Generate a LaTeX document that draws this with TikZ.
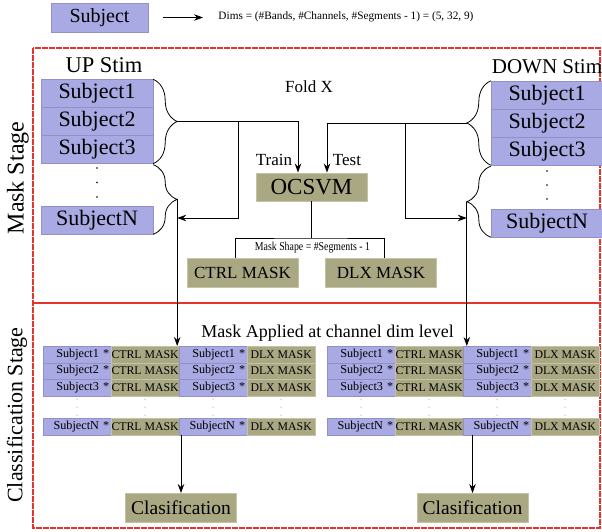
\documentclass[tikz,border=0pt]{standalone}
\usepackage{fontspec}
\setmainfont{Liberation Serif}
\usetikzlibrary{arrows.meta,decorations.pathreplacing}

\definecolor{subjblue}{RGB}{169,169,227}
\definecolor{subjline}{RGB}{145,145,200}
\definecolor{maskolive}{RGB}{169,168,131}
\definecolor{maskline}{RGB}{195,195,165}
\definecolor{framecol}{RGB}{228,52,44}
\newcommand\fsz[1]{\fontsize{#1}{#1}\selectfont}

\tikzset{
  subjbox/.style={fill=subjblue, draw=subjline, line width=0.4pt, minimum width=112pt, minimum height=28pt, inner sep=0pt, font=\fsz{22}},
  maskbox/.style={fill=maskolive, draw=maskline, line width=0.4pt, minimum width=111pt, minimum height=28.5pt, inner sep=0pt, font=\fsz{17}},
  cellsubj/.style={fill=subjblue, draw=subjline, line width=0.3pt, anchor=north west, minimum height=16.5pt, text width=64pt, inner xsep=2pt, inner ysep=0pt, align=right, font=\fsz{12.2}},
  cellmask/.style={fill=maskolive, draw=maskline, line width=0.3pt, anchor=north west, minimum height=16.5pt, minimum width=68pt, inner xsep=0pt, inner ysep=0pt, font=\fsz{11.8}},
  arr/.style={-{Stealth[length=9pt,width=6.5pt]}},
  bracel/.style={decorate, decoration={brace, amplitude=24pt}, line width=0.8pt},
  framered/.style={draw=framecol, line width=1.2pt, dash pattern=on 6pt off 1pt},
}

\begin{document}
\begin{tikzpicture}[x=1pt, y=-1pt, line width=0.8pt]
  \useasboundingbox (0,0) rectangle (602,531);

  % legend
  \node[subjbox, minimum width=97pt, minimum height=29pt, font=\fsz{20}] (leg) at (99.5,17.5) {Subject};
  \node[font=\fsz{10}, scale=1.13, anchor=west, inner sep=0pt] (dims) at (218,17) {Dims = (\#Bands, \#Channels, \#Segments - 1) = (5, 32, 9)};
  \draw[arr, line width=0.7pt, shorten <=15pt, shorten >=15pt] (leg) -- (dims.west |- leg);

  % stages
  \draw[framered] (33,48) rectangle (600,528);
  \draw[framered, solid] (33,303) -- (600,303);
  \node[rotate=90, font=\fsz{24}] (maskstage) at (18,178) {Mask Stage};
  \node[rotate=90, font=\fsz{22}] (clsstage) at (17,415) {Classification Stage};

  % up stim subjects
  \node[font=\fsz{22.5}] (upstim) at (104,65) {UP Stim};
  \node[subjbox] (up1) at (97,93.5) {Subject1};
  \node[subjbox] (up2) at (97,121.5) {Subject2};
  \node[subjbox] (up3) at (97,149.5) {Subject3};
  \node[subjbox] (upn) at (97,220) {SubjectN};
  \foreach \dy in {168,182.5,197} \fill (97,\dy) circle (0.9pt);
  \draw[bracel] (up1.north east) -- (up3.south east) coordinate[midway, xshift=24pt] (upA);
  \draw[bracel] ([yshift=-1pt]up3.south east) -- (upn.south east) coordinate[midway, xshift=24pt] (upB);

  % down stim subjects
  \node[font=\fsz{21}] (downstim) at (547,67) {DOWN Stim};
  \node[subjbox] (dn1) at (547,95) {Subject1};
  \node[subjbox] (dn2) at (547,123) {Subject2};
  \node[subjbox] (dn3) at (547,151) {Subject3};
  \node[subjbox] (dnn) at (547,223) {SubjectN};
  \foreach \dy in {171,185,199} \fill (547,\dy) circle (0.9pt);
  \draw[bracel] (dn3.south west) -- (dn1.north west) coordinate[midway, xshift=-24pt] (downA);
  \draw[bracel] (dnn.south west) -- ([yshift=-1pt]dn3.south west) coordinate[midway, xshift=-24pt] (downB);

  % ocsvm
  \node[font=\fsz{17}] (fold) at (309,87) {Fold X};
  \node[maskbox, font=\fsz{23}] (ocsvm) at (311.5,187) {OCSVM};
  \node[font=\fsz{17}] (train) at (274,160) {Train};
  \node[font=\fsz{17}] (test) at (347,160) {Test};
  \draw[arr] (upA) -| ([xshift=-13.5pt]ocsvm.north);
  \draw[arr] (downA) -| ([xshift=15.5pt]ocsvm.north);
  \coordinate (lturn) at (238,218);
  \coordinate (rturn) at (405,218);
  \draw[arr] (upA -| lturn) |- (upB |- lturn);
  \draw[arr] (downA -| rturn) |- (downB |- rturn);

  % masks
  \node[maskbox] (ctrlm) at (242.5,272.5) {CTRL MASK};
  \node[maskbox] (dlxm) at (381,272.5) {DLX MASK};
  \coordinate (mbar) at (311.5,238);
  \draw (ocsvm) -- (mbar);
  \draw ([xshift=-7.5pt]ctrlm.north) |- (mbar) -| ([xshift=3pt]dlxm.north);
  \node[font=\fsz{12}, xscale=0.82] (mshape) at (312.5,248) {Mask Shape = \#Segments - 1};

  % classification
  \node[font=\fsz{18}] (applied) at (327.5,333) {Mask Applied at channel dim level};
  \foreach \blk/\bx in {l/43,r/327} {
    \foreach \row/\ry/\lab in {1/346/Subject1, 2/362.5/Subject2, 3/379/Subject3, 4/418/SubjectN} {
      \node[cellsubj] (\blk s\row) at (\bx,\ry) {\lab\ *};
      \node[cellmask] (\blk c\row) at (\bx+68,\ry) {CTRL MASK};
      \node[cellsubj] (\blk t\row) at (\bx+136,\ry) {\lab\ *};
      \node[cellmask] (\blk d\row) at (\bx+204,\ry) {DLX MASK};
    }
    \foreach \dx in {34,102,170,238}
      \foreach \dy in {399,407,415} \fill[black!60] (\bx+\dx,\dy) circle (0.5pt);
  }
  \draw[arr] (upB) -- (upB |- ls1.north);
  \draw[arr] (downB) -- (downB |- rs1.north);

  \node[maskbox, font=\fsz{19.5}] (lcls) at (181,507.5) {Clasification};
  \node[maskbox, font=\fsz{19.5}] (rcls) at (472.5,507.5) {Clasification};
  \draw[arr] (lcls.north |- lc4.south) -- (lcls);
  \draw[arr] (rcls.north |- rc4.south) -- (rcls);
\end{tikzpicture}
\end{document}
